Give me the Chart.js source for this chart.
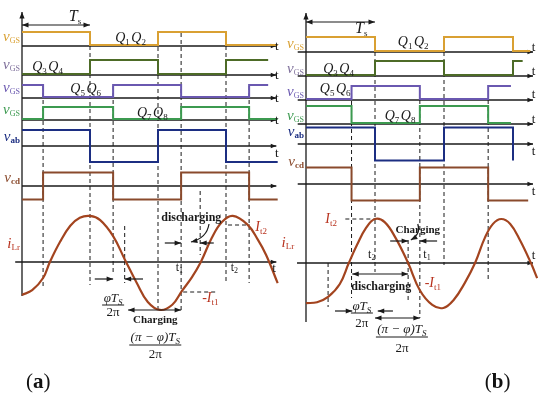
<!DOCTYPE html>
<html>
<head>
<meta charset="utf-8">
<script src="https://cdn.jsdelivr.net/npm/chart.js@4.4.0/dist/chart.umd.min.js"></script>
<style>
  body { margin: 0; background: #fff; width: 550px; height: 397px; position: relative; overflow: hidden; }
  canvas { position: absolute; top: 0; }
  #chartA { left: 0; }
  #chartB { left: 268px; }
</style>
</head>
<body>
<canvas id="chartA" width="285" height="397"></canvas>
<canvas id="chartB" width="282" height="397"></canvas>
<script>
// ---- panel (a): switching instants (time in units of Ts) and levels ----
const q12aT = [0, 1, 2, 3, 3.76],             q12aL = [1, 0, 1, 0, 0];
const q34aT = [0, 1, 2, 3, 3.62],             q34aL = [0, 1, 0, 1, 1];
const q56aT = [0, 0.31, 1.34, 2.34, 3.34, 3.62], q56aL = [1, 0, 1, 0, 1, 1];
const q78aT = [0, 0.31, 1.34, 2.34, 3.34, 3.76], q78aL = [0, 1, 0, 1, 0, 0];
const vabAT = [0, 1, 2, 3, 3.76],             vabAL = [1, -1, 1, -1, -1];
const vcdAT = [0, 0.31, 1.34, 2.34, 3.34, 3.76], vcdAL = [-1, 1, -1, 1, -1, -1];
const iLrAT = [0, 0.15, 0.31, 0.41, 0.56, 0.71, 0.85, 1.0, 1.15, 1.34, 1.51, 1.69, 1.85,
               2.03, 2.21, 2.35, 2.5, 2.63, 2.79, 2.94, 3.1, 3.32, 3.47, 3.59, 3.76];
const iLrAV = [-0.70, -0.60, -0.34, 0, 0.43, 0.77, 0.94, 0.98, 0.89, 0.55, 0.06, -0.45, -0.85,
               -1.02, -0.91, -0.62, -0.32, 0, 0.51, 0.85, 0.98, 0.79, 0.47, 0.15, -0.45];

// ---- panel (b) ----
const q12bT = [0, 1, 2, 3, 3.25],             q12bL = [1, 0, 1, 0, 0];
const q34bT = [0, 1, 2, 3, 3.14],             q34bL = [0, 1, 0, 1, 1];
const q56bT = [0, 0.66, 1.65, 2.64, 2.97],    q56bL = [0, 1, 0, 1, 1];
const q78bT = [0, 0.66, 1.65, 2.64, 2.97],    q78bL = [1, 0, 1, 0, 0];
const vabBT = [0, 1, 2, 3, 3],                vabBL = [1, -1, 1, 1, -1];
const vcdBT = [0, 0.66, 1.65, 2.64, 3.22],    vcdBL = [1, -1, 1, -1, -1];
const iLrBT = [0, 0.16, 0.32, 0.49, 0.62, 0.74, 0.87, 1.0, 1.14, 1.30, 1.48, 1.65,
               1.83, 1.99, 2.14, 2.30, 2.45, 2.59, 2.71, 2.83, 2.96, 3.10, 3.26, 3.35];
const iLrBV = [-0.89, -0.87, -0.75, -0.46, 0.01, 0.42, 0.80, 1.0, 0.93, 0.57, 0.01, -0.60,
               -0.93, -1.0, -0.82, -0.44, 0.01, 0.57, 0.89, 1.0, 0.89, 0.53, 0.01, -0.33];

const SERIF = '"Liberation Serif", "Times New Roman", serif';
const I = s => 'italic ' + s + 'px ' + SERIF;
const R = s => s + 'px ' + SERIF;
const B = s => 'bold ' + s + 'px ' + SERIF;

const C = {
  q12: '#d9a032', q34: '#4d6b27', q56: '#6a58b0', q78: '#3c9a50',
  vab: '#1c2e82', vcd: '#8a4a2c', iLr: '#a3441f', red: '#b8321e',
  ink: '#1a1a1a', lab2: '#7d6e9a'
};

// row placement (pixels on the canvas)
const rowsA = {
  q12: { base: 46, amp: 13, lift: 1 }, q34: { base: 75, amp: 14, lift: 1 },
  q56: { base: 98, amp: 12, lift: 1 }, q78: { base: 120, amp: 12, lift: 1 },
  vab: { base: 146, amp: 16, lift: 0 }, vcd: { base: 186, amp: 13.5, lift: 0 },
  iLr: { base: 262, amp: 47, lift: 0 }
};
const rowsB = {
  q12: { base: 52, amp: 14, lift: 1 }, q34: { base: 76, amp: 14, lift: 1 },
  q56: { base: 100, amp: 13, lift: 1 }, q78: { base: 124, amp: 17, lift: 1 },
  vab: { base: 144, amp: 16.5, lift: 0 }, vcd: { base: 184, amp: 16.5, lift: 0 },
  iLr: { base: 263.5, amp: 44.5, lift: 0 }
};

// level L[i] holds from T[i] until T[i+1]
function square(T, L, row, color) {
  const pts = [];
  T.forEach((t, i) => {
    const y = row.base - row.lift - row.amp * L[i];
    if (i > 0) pts.push({ x: t, y: row.base - row.lift - row.amp * L[i - 1] });
    pts.push({ x: t, y: y });
  });
  return {
    data: pts, borderColor: color, borderWidth: 2, pointRadius: 0,
    fill: false, borderJoinStyle: 'miter', tension: 0
  };
}
function smooth(T, V, row, color) {
  return {
    data: T.map((t, i) => ({ x: t, y: row.base - row.amp * V[i] })),
    tension: 0.4, borderColor: color, borderWidth: 2.2, pointRadius: 0, fill: false
  };
}

const vgs = () => [['v', I(15)], ['GS', R(8), 2]];
const qq = (a, b) => [['Q', I(14)], [a, R(9), 3], [' ', R(6)], ['Q', I(14)], [b, R(9), 3]];
const tl = () => [['t', R(13)]];
const tsub = n => [['t', R(12)], [n, R(8), 2]];
const phiNum = () => [['φ', I(13)], ['T', I(13)], ['S', I(9), 3]];
const piNum = () => [['(π − φ)', I(13)], ['T', I(13)], ['S', I(9), 3]];
const twoPi = () => [['2π', R(13)]];

function drawText(ctx, x, y, parts, align, color) {
  let w = 0;
  parts.forEach(p => { ctx.font = p[1]; w += ctx.measureText(p[0]).width; });
  let cx = align === 'right' ? x - w : align === 'center' ? x - w / 2 : x;
  ctx.fillStyle = color;
  ctx.textAlign = 'left';
  ctx.textBaseline = 'alphabetic';
  parts.forEach(p => {
    ctx.font = p[1];
    ctx.fillText(p[0], cx, y + (p[2] || 0));
    cx += ctx.measureText(p[0]).width;
  });
}
function head(ctx, x, y, ang, s) {
  ctx.beginPath();
  ctx.moveTo(x, y);
  ctx.lineTo(x - s * Math.cos(ang - 0.38), y - s * Math.sin(ang - 0.38));
  ctx.lineTo(x - s * Math.cos(ang + 0.38), y - s * Math.sin(ang + 0.38));
  ctx.closePath();
  ctx.fill();
}
function arrow(ctx, x1, y1, x2, y2, both, s) {
  ctx.beginPath(); ctx.moveTo(x1, y1); ctx.lineTo(x2, y2); ctx.stroke();
  const a = Math.atan2(y2 - y1, x2 - x1);
  head(ctx, x2, y2, a, s || 7);
  if (both) head(ctx, x1, y1, a + Math.PI, s || 7);
}

function decorate(chart, spec, layer) {
  const ctx = chart.ctx, xs = chart.scales.x, ys = chart.scales.y;
  const X = t => xs.getPixelForValue(t), Y = v => ys.getPixelForValue(v);
  ctx.save();
  ctx.strokeStyle = C.ink;
  ctx.fillStyle = C.ink;
  if (layer === 'under') {
    ctx.lineWidth = 1.3;
    spec.axes.forEach(([t0, t1, y]) => arrow(ctx, X(t0), Y(y), X(t1), Y(y), false, 6));
    arrow(ctx, X(0), Y(spec.vaxis[0]), X(0), Y(spec.vaxis[1]), false, 7);
    ctx.lineWidth = 1;
    ctx.setLineDash([4, 3]);
    spec.dashes.forEach(([t, y0, y1]) => {
      ctx.beginPath(); ctx.moveTo(X(t), Y(y0)); ctx.lineTo(X(t), Y(y1)); ctx.stroke();
    });
    spec.hdash.forEach(([t0, t1, y]) => {
      ctx.beginPath(); ctx.moveTo(X(t0), Y(y)); ctx.lineTo(X(t1), Y(y)); ctx.stroke();
    });
    ctx.setLineDash([]);
  } else {
    ctx.lineWidth = 1.2;
    spec.arrows.forEach(([t0, y0, t1, y1, both]) => arrow(ctx, X(t0), Y(y0), X(t1), Y(y1), both, 7));
    spec.curves.forEach(([t0, y0, tc, yc, t1, y1]) => {
      ctx.beginPath();
      ctx.moveTo(X(t0), Y(y0));
      ctx.quadraticCurveTo(X(tc), Y(yc), X(t1), Y(y1));
      ctx.stroke();
      head(ctx, X(t1), Y(y1), Math.atan2(Y(y1) - Y(yc), X(t1) - X(tc)), 7);
    });
    ctx.lineWidth = 1;
    spec.bars.forEach(([t, y, w]) => {
      ctx.beginPath(); ctx.moveTo(X(t) - w / 2, Y(y)); ctx.lineTo(X(t) + w / 2, Y(y)); ctx.stroke();
    });
    spec.texts.forEach(([t, y, parts, align, color]) => drawText(ctx, X(t), Y(y), parts, align, color));
  }
  ctx.restore();
}

const specA = {
  vaxis: [296, 12],
  axes: [[0, 3.74, 46], [0, 3.74, 75], [0, 3.74, 98], [0, 3.74, 120],
         [0, 3.74, 146], [0, 3.74, 186], [-0.1, 3.74, 262]],
  dashes: [[0.31, 86, 287], [1.0, 46, 285], [1.34, 86, 273], [1.51, 226, 283], [2.0, 33, 310],
           [2.34, 33, 312], [2.62, 191, 255], [3.0, 46, 283], [3.34, 86, 283]],
  hdash: [[3.03, 3.35, 225], [2.37, 2.87, 292]],
  arrows: [[0, 25, 1, 25, true], [1.07, 279, 1.34, 279, false], [1.78, 279, 1.51, 279, false],
           [1.56, 310, 2.34, 310, true], [2.10, 243, 2.34, 243, false], [2.82, 243, 2.62, 243, false]],
  curves: [[2.75, 224, 2.72, 238, 2.485, 242]],
  bars: [[1.34, 305, 22], [1.96, 345, 52]],
  texts: [
    [0.78, 21, [['T', I(16)], ['s', R(9), 3]], 'center', C.ink],
    [1.37, 42, qq('1', '2'), 'left', C.ink],
    [0.15, 71, qq('3', '4'), 'left', C.ink],
    [0.71, 93, qq('5', '6'), 'left', C.ink],
    [1.69, 117, qq('7', '8'), 'left', C.ink],
    [-0.03, 41, vgs(), 'right', C.q12],
    [-0.03, 69, vgs(), 'right', C.lab2],
    [-0.03, 92, vgs(), 'right', C.q56],
    [-0.03, 114, vgs(), 'right', C.q78],
    [-0.03, 141, [['v', I(15)], ['ab', B(9), 2]], 'right', C.vab],
    [-0.03, 182, [['v', I(15)], ['cd', B(9), 2]], 'right', C.vcd],
    [-0.03, 248, [['i', I(15)], ['Lr', R(9), 2]], 'right', C.red],
    [3.72, 50, tl(), 'left', C.ink], [3.72, 79, tl(), 'left', C.ink],
    [3.72, 102, tl(), 'left', C.ink], [3.72, 124, tl(), 'left', C.ink],
    [3.72, 157, tl(), 'left', C.ink], [3.68, 272, tl(), 'left', C.ink],
    [2.49, 221, [['discharging', B(12)]], 'center', C.ink],
    [1.96, 323, [['Charging', B(11)]], 'center', C.ink],
    [3.43, 231, [['I', I(14)], ['t2', R(9), 3]], 'left', C.red],
    [2.26, 271, tsub('1'), 'left', C.ink],
    [3.07, 271, tsub('2'), 'left', C.ink],
    [2.65, 302, [['-I', I(14)], ['t1', R(9), 3]], 'left', C.red],
    [1.34, 302, phiNum(), 'center', C.ink],
    [1.34, 316, twoPi(), 'center', C.ink],
    [1.96, 341, piNum(), 'center', C.ink],
    [1.96, 358, twoPi(), 'center', C.ink],
    [0.06, 388, [['(', R(21)], ['a', B(21)], [')', R(21)]], 'left', '#111']
  ]
};

const specB = {
  vaxis: [322, 13],
  axes: [[-0.12, 3.29, 52], [-0.12, 3.29, 76], [-0.12, 3.29, 100], [-0.12, 3.29, 124],
         [-0.12, 3.29, 144], [-0.12, 3.29, 184], [-0.13, 3.29, 263]],
  dashes: [[0.32, 263, 307], [0.66, 87, 298], [1.0, 52, 272], [1.48, 240, 303],
           [1.65, 100, 318], [2.0, 52, 265], [2.64, 100, 280]],
  hdash: [[0.57, 1.0, 219]],
  arrows: [[0, 22, 1, 22, true], [1.22, 241, 1.48, 241, false], [1.90, 241, 1.65, 241, false],
           [0.67, 274, 1.48, 274, true], [0.42, 311, 0.67, 311, false], [1.26, 311, 1.04, 311, false],
           [1.0, 318, 1.65, 318, true]],
  curves: [[1.62, 224, 1.67, 234, 1.52, 240]],
  bars: [[0.81, 313, 22], [1.39, 337, 52]],
  texts: [
    [0.80, 33, [['T', I(16)], ['s', R(9), 3]], 'center', C.ink],
    [1.33, 46, qq('1', '2'), 'left', C.ink],
    [0.25, 73, qq('3', '4'), 'left', C.ink],
    [0.20, 93, qq('5', '6'), 'left', C.ink],
    [1.14, 120, qq('7', '8'), 'left', C.ink],
    [-0.03, 48, vgs(), 'right', C.q12],
    [-0.03, 73, vgs(), 'right', C.lab2],
    [-0.03, 96, vgs(), 'right', C.q56],
    [-0.03, 120, vgs(), 'right', C.q78],
    [-0.03, 136, [['v', I(15)], ['ab', B(9), 2]], 'right', C.vab],
    [-0.03, 166, [['v', I(15)], ['cd', B(9), 2]], 'right', C.vcd],
    [-0.17, 247, [['i', I(15)], ['Lr', R(9), 2]], 'right', C.red],
    [3.27, 51, tl(), 'left', C.ink], [3.27, 75, tl(), 'left', C.ink],
    [3.27, 98, tl(), 'left', C.ink], [3.27, 123, tl(), 'left', C.ink],
    [3.27, 155, tl(), 'left', C.ink], [3.27, 195, tl(), 'left', C.ink],
    [3.27, 259, tl(), 'left', C.ink],
    [0.28, 223, [['I', I(14)], ['t2', R(9), 3]], 'left', C.red],
    [1.62, 233, [['Charging', B(11)]], 'center', C.ink],
    [0.90, 258, tsub('2'), 'left', C.ink],
    [1.70, 258, tsub('1'), 'left', C.ink],
    [1.09, 290, [['discharging', B(12)]], 'center', C.ink],
    [1.72, 287, [['-I', I(14)], ['t1', R(9), 3]], 'left', C.red],
    [0.81, 310, phiNum(), 'center', C.ink],
    [0.81, 327, twoPi(), 'center', C.ink],
    [1.39, 333, piNum(), 'center', C.ink],
    [1.39, 352, twoPi(), 'center', C.ink],
    [2.59, 388, [['(', R(21)], ['b', B(21)], [')', R(21)]], 'left', '#111']
  ]
};

function makePanel(id, xmin, xmax, datasets, spec) {
  return new Chart(document.getElementById(id), {
    type: 'line',
    data: { datasets: datasets },
    options: {
      responsive: false,
      animation: false,
      events: [],
      layout: { padding: 0 },
      plugins: { legend: { display: false }, tooltip: { enabled: false } },
      scales: {
        x: { type: 'linear', min: xmin, max: xmax, display: false },
        y: { type: 'linear', min: 0, max: 397, reverse: true, display: false }
      }
    },
    plugins: [{
      id: 'deco',
      beforeDatasetsDraw: c => decorate(c, spec, 'under'),
      afterDatasetsDraw: c => decorate(c, spec, 'over')
    }]
  });
}

const chartA = makePanel('chartA', -22 / 68, (285 - 22) / 68, [
  square(q12aT, q12aL, rowsA.q12, C.q12),
  square(q34aT, q34aL, rowsA.q34, C.q34),
  square(q56aT, q56aL, rowsA.q56, C.q56),
  square(q78aT, q78aL, rowsA.q78, C.q78),
  square(vabAT, vabAL, rowsA.vab, C.vab),
  square(vcdAT, vcdAL, rowsA.vcd, C.vcd),
  smooth(iLrAT, iLrAV, rowsA.iLr, C.iLr)
], specA);

const chartB = makePanel('chartB', -38 / 69, (282 - 38) / 69, [
  square(q12bT, q12bL, rowsB.q12, C.q12),
  square(q34bT, q34bL, rowsB.q34, C.q34),
  square(q56bT, q56bL, rowsB.q56, C.q56),
  square(q78bT, q78bL, rowsB.q78, C.q78),
  square(vabBT, vabBL, rowsB.vab, C.vab),
  square(vcdBT, vcdBL, rowsB.vcd, C.vcd),
  smooth(iLrBT, iLrBV, rowsB.iLr, C.iLr)
], specB);
</script>
</body>
</html>
